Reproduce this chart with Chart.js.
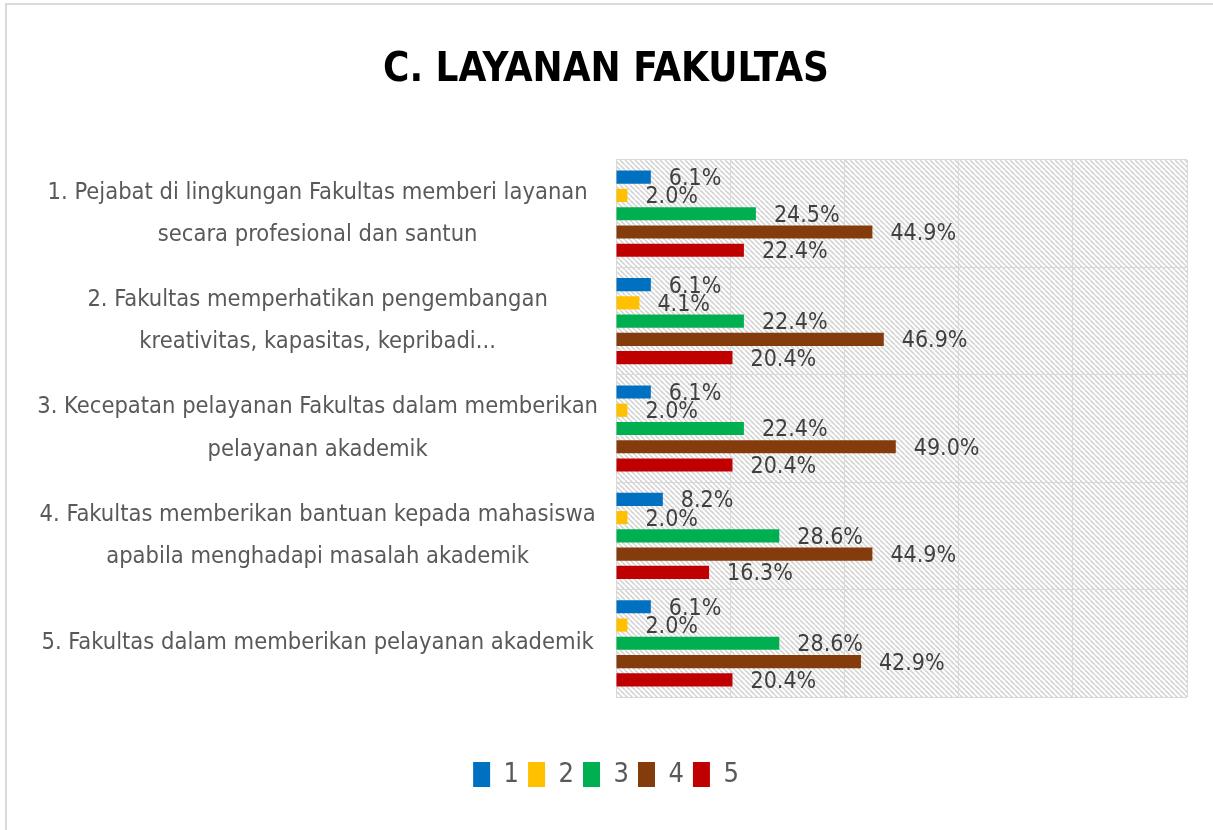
<!DOCTYPE html>
<html>
<head>
<meta charset="utf-8">
<script src="https://cdn.jsdelivr.net/npm/chart.js@4.4.0/dist/chart.umd.min.js"></script>
<style>
  html, body { margin: 0; padding: 0; background: #fff; }
  #wrap { width: 1213px; height: 830px; position: relative; }
</style>
</head>
<body>
<div id="wrap"><canvas id="layananChart" width="1213" height="830"></canvas></div>
<script>
// data
const categories = [
    ['1. Pejabat di lingkungan Fakultas memberi layanan', 'secara profesional dan santun'],
    ['2. Fakultas memperhatikan pengembangan', 'kreativitas, kapasitas, kepribadi...'],
    ['3. Kecepatan pelayanan Fakultas dalam memberikan', 'pelayanan akademik'],
    ['4. Fakultas memberikan bantuan kepada mahasiswa', 'apabila menghadapi masalah akademik'],
    '5. Fakultas dalam memberikan pelayanan akademik'
];
const seriesNames = ['1', '2', '3', '4', '5'];
const values1 = [6.1, 6.1, 6.1, 8.2, 6.1];
const values2 = [2.0, 4.1, 2.0, 2.0, 2.0];
const values3 = [24.5, 22.4, 22.4, 28.6, 28.6];
const values4 = [44.9, 46.9, 49.0, 44.9, 42.9];
const values5 = [22.4, 20.4, 20.4, 16.3, 20.4];
const xTicks = [0, 20, 40, 60, 80, 100];

const colors = ['#0070C0', '#FFC000', '#00B050', '#843C0C', '#C00000'];
const FONT = "'Liberation Sans Narrow', 'DejaVu Sans Condensed', 'Liberation Sans', sans-serif";

const ctx = document.getElementById('layananChart').getContext('2d');

// diagonal hatch for the plot background
function makeHatch() {
    const p = 5;
    const c = document.createElement('canvas');
    c.width = p; c.height = p;
    const g = c.getContext('2d');
    g.strokeStyle = '#d4d4d4';
    g.lineWidth = 1.6;
    for (let k = -1; k <= 1; k++) {
        g.beginPath();
        g.moveTo(k * p, 0);
        g.lineTo(k * p + p, p);
        g.stroke();
    }
    return ctx.createPattern(c, 'repeat');
}

const backdrop = {
    id: 'backdrop',
    beforeDraw(chart) {
        const c = chart.ctx, a = chart.chartArea;
        c.save();
        c.fillStyle = '#fff';
        c.fillRect(0, 0, chart.width, chart.height);
        c.strokeStyle = '#d9d9d9';
        c.lineWidth = 2;
        c.beginPath();
        c.moveTo(6, chart.height);
        c.lineTo(6, 4);
        c.lineTo(chart.width, 4);
        c.stroke();
        c.fillStyle = makeHatch();
        c.fillRect(a.left, a.top, a.right - a.left, a.bottom - a.top);
        c.restore();
    }
};

// value labels to the right of each bar
const valueLabels = {
    id: 'valueLabels',
    afterDatasetsDraw(chart) {
        const c = chart.ctx;
        c.save();
        c.font = '23px ' + FONT;
        c.fillStyle = '#404040';
        c.textAlign = 'left';
        c.textBaseline = 'middle';
        chart.data.datasets.forEach((ds, i) => {
            chart.getDatasetMeta(i).data.forEach((bar, j) => {
                c.fillText(ds.data[j].toFixed(1) + '%', bar.x + 18, bar.y + 2);
            });
        });
        c.restore();
    }
};

const data = {
    labels: categories,
    datasets: [values1, values2, values3, values4, values5].map((v, i) => ({
        label: seriesNames[i],
        data: v,
        backgroundColor: colors[i],
        borderWidth: 0,
        categoryPercentage: 0.85,
        barPercentage: 0.72
    }))
};

const options = {
    indexAxis: 'y',
    responsive: false,
    animation: false,
    layout: { padding: { left: 25, right: 26, top: 0, bottom: 32 } },
    plugins: {
        title: {
            display: true,
            text: 'C. LAYANAN FAKULTAS',
            color: '#000',
            font: { family: FONT, size: 40, weight: 'bold', lineHeight: 1.2 },
            padding: { top: 47, bottom: 65 }
        },
        legend: {
            position: 'bottom',
            labels: {
                boxWidth: 17,
                boxHeight: 25,
                padding: 9,
                color: '#595959',
                font: { family: FONT, size: 27 }
            }
        },
        tooltip: { enabled: false }
    },
    scales: {
        x: {
            min: 0,
            max: 100,
            afterBuildTicks: s => { s.ticks = xTicks.map(v => ({ value: v })); },
            ticks: { display: false },
            grid: { color: '#d9d9d9', drawTicks: false },
            border: { display: false },
            afterFit: s => { s.height = 55; }
        },
        y: {
            grid: { offset: true, color: '#d9d9d9', drawTicks: false },
            border: { display: false },
            ticks: {
                color: '#595959',
                crossAlign: 'center',
                padding: 18,
                font: { family: FONT, size: 23.5, lineHeight: 1.8 }
            },
            afterFit: s => { s.width = 591; }
        }
    }
};

new Chart(ctx, {
    type: 'bar',
    data: data,
    options: options,
    plugins: [backdrop, valueLabels]
});
</script>
</body>
</html>
